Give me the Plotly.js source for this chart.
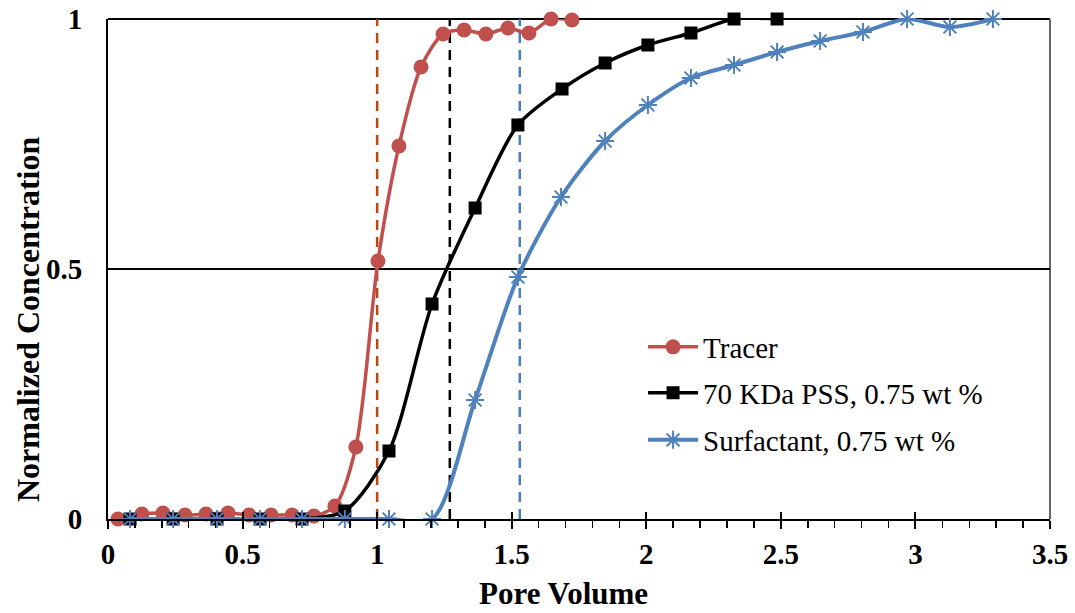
<!DOCTYPE html>
<html>
<head>
<meta charset="utf-8">
<script src="https://cdn.plot.ly/plotly-3.0.1.min.js"></script>
<style>html,body{margin:0;padding:0;background:#fff;}#chart{width:1075px;height:613px;}</style>
</head>
<body>
<div id="chart"></div>
<script>
// Tracer
const tracerX = [0.037,0.126,0.204,0.286,0.364,0.446,0.524,0.606,0.684,0.765,0.843,0.921,1.003,1.081,1.163,1.245,1.323,1.404,1.486,1.564,1.646,1.724];
const tracerY = [0.0,0.010,0.012,0.008,0.010,0.012,0.008,0.008,0.008,0.006,0.026,0.144,0.516,0.746,0.904,0.970,0.978,0.970,0.982,0.972,1.0,0.998];
// 70 KDa PSS
const pssX = [0.082,0.242,0.405,0.565,0.721,0.880,1.044,1.204,1.364,1.523,1.687,1.847,2.006,2.166,2.326,2.486];
const pssY = [0,0,0,0,0,0.016,0.136,0.430,0.622,0.788,0.860,0.912,0.948,0.972,1.0,1.0];
// Surfactant
const surfX = [0.082,0.242,0.405,0.565,0.721,0.880,1.044,1.204,1.364,1.523,1.683,1.847,2.006,2.166,2.326,2.486,2.646,2.805,2.969,3.128,3.288];
const surfY = [0,0,0,0,0,0,0,0,0.238,0.484,0.644,0.756,0.828,0.882,0.908,0.934,0.956,0.974,1.0,0.984,1.0];
// reference pore volumes at C/C0 = 0.5 (dashed lines)
const refPV = [1.0, 1.27, 1.53];
const refColors = ['#B9470E', '#000000', '#4A7EBB'];

const seriesNames = ['Tracer', '70 KDa PSS, 0.75 wt %', 'Surfactant, 0.75 wt %'];
const xTickVals = [0,0.5,1,1.5,2,2.5,3,3.5];
const xTickText = ['0','0.5','1','1.5','2','2.5','3','3.5'];
const yTickVals = [0,0.5,1];
const yTickText = ['0','0.5','1'];
const xTitle = 'Pore Volume';
const yTitle = 'Normalized Concentration';

const serif = 'Liberation Serif, Times New Roman, serif';

const traces = [];
refPV.forEach((v,i)=>{
  traces.push({x:[v,v], y:[0,1], mode:'lines', showlegend:false, hoverinfo:'skip',
    line:{color:refColors[i], width:2.5, dash:'10px,7px'}, cliponaxis:false});
});
traces.push({x:tracerX, y:tracerY, name:seriesNames[0], mode:'lines+markers', legend:'legend',
  line:{color:'#C0504D', width:3.5, shape:'spline', smoothing:0.8},
  marker:{symbol:'circle', size:15, color:'#C0504D'}, cliponaxis:false});
traces.push({x:pssX, y:pssY, name:seriesNames[1], mode:'lines+markers', legend:'legend2',
  line:{color:'#000000', width:3.5, shape:'spline', smoothing:0.8},
  marker:{symbol:'square', size:13, color:'#000000'}, cliponaxis:false});
traces.push({x:surfX, y:surfY, name:seriesNames[2], mode:'lines+markers', legend:'legend3',
  line:{color:'#4F81BD', width:4, shape:'spline', smoothing:0.8},
  marker:{symbol:'asterisk-open', size:15, color:'#4F81BD', line:{color:'#4F81BD', width:2}}, cliponaxis:false});
// dummy trace to carry the inside tick axis
traces.push({x:[], y:[], xaxis:'x2', yaxis:'y', showlegend:false, hoverinfo:'skip'});

const legendBase = {font:{family:serif, size:29, color:'#000'}, bgcolor:'rgba(0,0,0,0)', xanchor:'left', yanchor:'middle', itemwidth:50};
const layout = {
  width:1075, height:613,
  margin:{l:108, r:25, t:19, b:94},
  paper_bgcolor:'#fff', plot_bgcolor:'#fff',
  showlegend:true,
  legend:Object.assign({x:0.568, y:(519-347)/500}, legendBase),
  legend2:Object.assign({x:0.568, y:(519-393)/500}, legendBase),
  legend3:Object.assign({x:0.568, y:(519-440)/500}, legendBase),
  xaxis:{range:[0,3.5], tickvals:xTickVals, ticktext:xTickText, showgrid:false, zeroline:false,
    showline:true, linecolor:'#000', linewidth:2, ticks:'outside', ticklen:8, tickwidth:2, tickcolor:'#000',
    minor:{dtick:0.1, ticks:'outside', ticklen:7, tickwidth:1.5, tickcolor:'#000', showgrid:false},
    tickfont:{family:serif, size:29, color:'#000', weight:'bold'}, ticklabelstandoff:0},
  xaxis2:{range:[0,3.5], overlaying:'x', side:'bottom', anchor:'y', tickvals:xTickVals, showticklabels:false,
    ticks:'inside', ticklen:7, tickwidth:2, tickcolor:'#000', showgrid:false, zeroline:false, showline:false},
  yaxis:{range:[0,1], tickvals:yTickVals, ticktext:yTickText, showgrid:true, gridcolor:'#000', gridwidth:1.2,
    zeroline:false, showline:true, linecolor:'#000', linewidth:2, ticks:'outside', ticklen:18, tickcolor:'rgba(0,0,0,0)',
    tickfont:{family:serif, size:29, color:'#000', weight:'bold'}},
  annotations:[
    {text:'<b>'+xTitle+'</b>', xref:'paper', yref:'paper', x:(563-108)/942, y:(519-593)/500, xanchor:'center', yanchor:'middle',
      showarrow:false, font:{family:serif, size:31, color:'#000'}},
    {text:'<b>'+yTitle+'</b>', xref:'paper', yref:'paper', x:(28-108)/942, y:(519-320)/500, xanchor:'center', yanchor:'middle',
      textangle:-90, showarrow:false, font:{family:serif, size:32, color:'#000'}}
  ],
  shapes:[
    {type:'line', xref:'paper', yref:'paper', x0:0, x1:1, y0:1, y1:1, line:{color:'#000', width:2}, layer:'below'},
    {type:'line', xref:'paper', yref:'paper', x0:1, x1:1, y0:0, y1:1, line:{color:'#666', width:2}, layer:'below'}
  ]
};
Plotly.newPlot('chart', traces, layout, {displayModeBar:false, staticPlot:true});
</script>
</body>
</html>
